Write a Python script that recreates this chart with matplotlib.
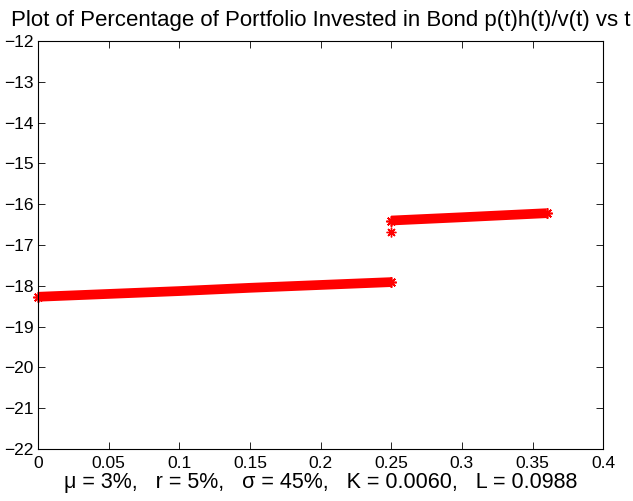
import numpy as np
import matplotlib
matplotlib.use("Agg")
import matplotlib.pyplot as plt

plt.rcParams['font.family'] = ['Liberation Sans', 'DejaVu Sans']

# values
t_before = [0.0, 0.05, 0.10, 0.15, 0.20, 0.25]
y_before = [-18.27, -18.20, -18.13, -18.05, -17.98, -17.91]
t_after = [0.25, 0.30, 0.36]
y_after = [-16.40, -16.32, -16.22]
t_jump = [0.25]
y_jump = [-16.68]

xticks = [0, 0.05, 0.1, 0.15, 0.2, 0.25, 0.3, 0.35, 0.4]
xtick_labels = ['0', '0.05', '0.1', '0.15', '0.2', '0.25', '0.3', '0.35', '0.4']
yticks = list(range(-22, -11))

star = (8, 2, 0)  # matlab-like asterisk

fig = plt.figure(figsize=(6.33, 5.01), dpi=100)
ax = fig.add_axes([0.060, 0.104, 0.893, 0.814])

for t, y in [(t_before, y_before), (t_after, y_after)]:
    ax.plot(t, y, color='red', lw=7, solid_capstyle='butt',
            marker=star, ms=7.5, mew=1.2, mec='red', markevery=[0, -1],
            clip_on=False)
ax.plot(t_jump, y_jump, ls='none', marker=star, ms=7, mew=1.0, mec='red')

ax.set_xlim(0, 0.4)
ax.set_ylim(-22, -12)
ax.set_xticks(xticks)
ax.set_xticklabels(xtick_labels)
ax.set_yticks(yticks)
ax.set_yticklabels([f'\u2212{abs(v)}' for v in yticks])
ax.tick_params(direction='in', top=True, right=True, length=5, width=0.6,
               labelsize=12.5, pad=3)
ax.tick_params(axis='x', pad=5)
for s in ax.spines.values():
    s.set_linewidth(0.8)

ax.set_title('Plot of Percentage of Portfolio Invested in Bond p(t)h(t)/v(t) vs t',
             fontsize=16, pad=11)
ax.set_xlabel('\u03bc = 3%,   r = 5%,   \u03c3 = 45%,   K = 0.0060,   L = 0.0988',
              fontsize=15.5, labelpad=1)

fig.savefig('out.png', dpi=100)
